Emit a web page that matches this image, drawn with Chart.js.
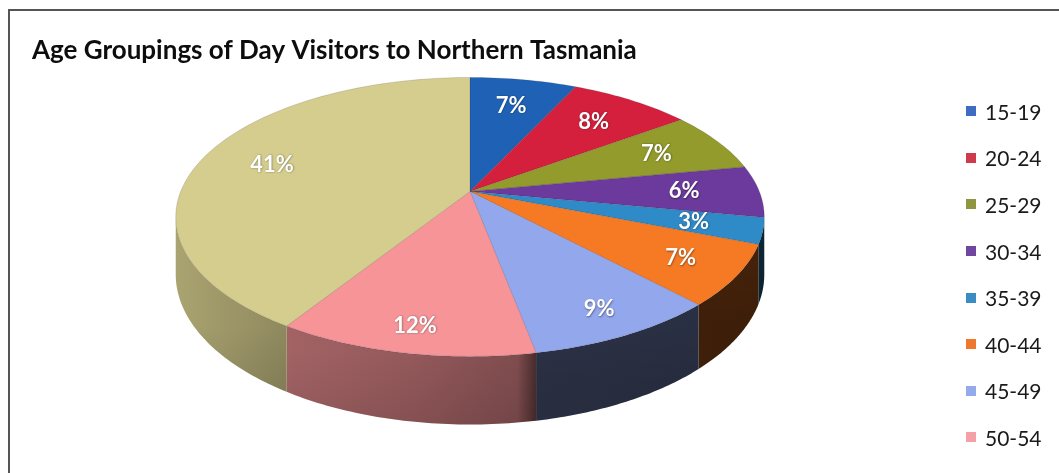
<!DOCTYPE html>
<html>
<head>
<meta charset="utf-8">
<title>Age Groupings of Day Visitors to Northern Tasmania</title>
<script src="https://cdn.jsdelivr.net/npm/chart.js@4.4.1/dist/chart.umd.min.js"></script>
<style>
  html, body { margin: 0; padding: 0; background: #fff; overflow: hidden; }
  #wrap { position: relative; width: 1059px; height: 473px; }
  #pieChart { position: absolute; left: 0; top: 0; }
  #frame {
    position: absolute; left: 8px; top: 9px; width: 1100px; height: 520px;
    border-left: 2px solid #555; border-top: 2px solid #555; pointer-events: none;
  }
  #legend {
    position: absolute; left: 966px; top: 88px;
    font-family: Lato, "Open Sans", sans-serif; font-size: 21px; color: #1a1a1a;
  }
  .item { display: flex; align-items: center; height: 46.6px; white-space: nowrap; }
  .box { width: 10px; height: 10px; margin-right: 9px; }
</style>
</head>
<body>
<div id="wrap">
  <canvas id="pieChart" width="1059" height="473"></canvas>
  <div id="frame"></div>
  <div id="legend"></div>
</div>
<script>
const chartTitle = "Age Groupings of Day Visitors to Northern Tasmania";
const ageGroups = ["15-19", "20-24", "25-29", "30-34", "35-39", "40-44", "45-49", "50-54", "55+"];
const shares = [7, 8, 7, 6, 3, 7, 9, 12, 41];
const sliceColors = ["#1f62b5", "#d4203c", "#929b2b", "#6b3a9c", "#2f8ac8", "#f67a24", "#93a7ec", "#f69498", "#d5cd8d"];
const legendColors = ["#3d6cc2", "#cc3a4c", "#8e9640", "#7047a0", "#3c8cc4", "#f0772e", "#94aaea", "#f4a0a6", "#d8d096"];

// tilted-disc projection, all relative to the pie radius Chart.js computes
const KX = 2.26;      // horizontal stretch
const KY = 1.053;     // vertical stretch
const KD = 0.435;     // thickness of the disc
const PERSP = 0.183;  // front of the disc is closer than the back

function project(arc, ang, r){
  const x = r * Math.cos(ang);
  const y = r * Math.sin(ang);
  const w = 1 - PERSP * y;
  return {
    x: arc.x + arc.outerRadius * KX * x / w,
    y: arc.y + arc.outerRadius * KY * y / w,
    depth: arc.outerRadius * KD / w
  };
}

function shade(hex, k){
  const n = parseInt(hex.slice(1), 16);
  const r = Math.round(((n >> 16) & 255) * k);
  const g = Math.round(((n >> 8) & 255) * k);
  const b = Math.round((n & 255) * k);
  return `rgb(${r},${g},${b})`;
}

const pie3d = {
  id: "pie3d",
  beforeDatasetsDraw(chart){
    const ctx = chart.ctx;
    const meta = chart.getDatasetMeta(0);
    const values = chart.data.datasets[0].data;
    const colors = chart.data.datasets[0].backgroundColor;
    const first = meta.data[0];
    const left = first.x - first.outerRadius * KX * 1.02;
    const right = first.x + first.outerRadius * KX * 1.02;
    const edge = Math.asin(PERSP);

    ctx.save();

    // side wall, only the part facing the viewer; light comes from the left
    meta.data.forEach((arc, i) => {
      const a0 = Math.max(arc.startAngle, edge);
      const a1 = Math.min(arc.endAngle, Math.PI - edge);
      if(a1 <= a0) return;
      const pts = [];
      for(let s = 0; s <= 48; s++){
        pts.push(project(arc, a0 + (a1 - a0) * s / 48, 1));
      }
      ctx.beginPath();
      pts.forEach((p, k) => k ? ctx.lineTo(p.x, p.y) : ctx.moveTo(p.x, p.y));
      for(let k = pts.length - 1; k >= 0; k--){
        ctx.lineTo(pts[k].x, pts[k].y + pts[k].depth);
      }
      ctx.closePath();
      const grad = ctx.createLinearGradient(left, 0, right, 0);
      grad.addColorStop(0, shade(colors[i], 0.8));
      grad.addColorStop(0.2, shade(colors[i], 0.66));
      grad.addColorStop(0.4, shade(colors[i], 0.6));
      grad.addColorStop(0.58, shade(colors[i], 0.52));
      grad.addColorStop(0.61, shade(colors[i], 0.31));
      grad.addColorStop(1, shade(colors[i], 0.28));
      ctx.fillStyle = grad;
      ctx.fill();
      const dim = ctx.createLinearGradient(0, pts[0].y, 0, pts[0].y + pts[0].depth * 1.3);
      dim.addColorStop(0, "rgba(0,0,0,0)");
      dim.addColorStop(1, "rgba(0,0,0,0.12)");
      ctx.fillStyle = dim;
      ctx.fill();
    });

    // top face
    meta.data.forEach((arc, i) => {
      ctx.beginPath();
      ctx.moveTo(arc.x, arc.y);
      const steps = Math.max(8, Math.ceil((arc.endAngle - arc.startAngle) * 40));
      for(let s = 0; s <= steps; s++){
        const p = project(arc, arc.startAngle + (arc.endAngle - arc.startAngle) * s / steps, 1);
        ctx.lineTo(p.x, p.y);
      }
      ctx.closePath();
      ctx.fillStyle = colors[i];
      ctx.fill();
      ctx.strokeStyle = "rgba(40,30,40,0.25)";
      ctx.lineWidth = 0.6;
      ctx.stroke();
    });

    // percentage labels
    ctx.font = "bold 22px Lato, 'Open Sans', sans-serif";
    ctx.textAlign = "center";
    ctx.textBaseline = "middle";
    meta.data.forEach((arc, i) => {
      const mid = (arc.startAngle + arc.endAngle) / 2;
      const r = 0.74 + 0.12 * Math.max(0, Math.sin(mid));
      const p = project(arc, mid, r);
      ctx.shadowColor = "rgba(0,0,0,0.45)";
      ctx.shadowBlur = 2;
      ctx.shadowOffsetX = 0.5;
      ctx.shadowOffsetY = 0.5;
      ctx.fillStyle = "#ffffff";
      ctx.fillText(values[i] + "%", p.x, p.y);
    });

    ctx.restore();
    return false;
  }
};

new Chart(document.getElementById("pieChart"), {
  type: "pie",
  data: {
    labels: ageGroups,
    datasets: [{
      data: shares,
      backgroundColor: sliceColors,
      borderWidth: 0
    }]
  },
  options: {
    responsive: false,
    animation: false,
    layout: { padding: { left: 32, right: 151, top: 0, bottom: 153.6 } },
    plugins: {
      legend: { display: false },
      tooltip: { enabled: false },
      title: {
        display: true,
        text: chartTitle,
        align: "start",
        color: "#0d0d0d",
        font: { family: "Lato, 'Open Sans', sans-serif", size: 26, weight: "bold", lineHeight: 1.015 },
        padding: { top: 37, bottom: 0 }
      }
    }
  },
  plugins: [pie3d]
});

// legend down the right-hand side
const legendDiv = document.getElementById("legend");
ageGroups.forEach((name, i) => {
  const item = document.createElement("div");
  item.className = "item";
  item.innerHTML = `<span class="box" style="background:${legendColors[i]}"></span>${name}`;
  legendDiv.appendChild(item);
});
</script>
</body>
</html>
